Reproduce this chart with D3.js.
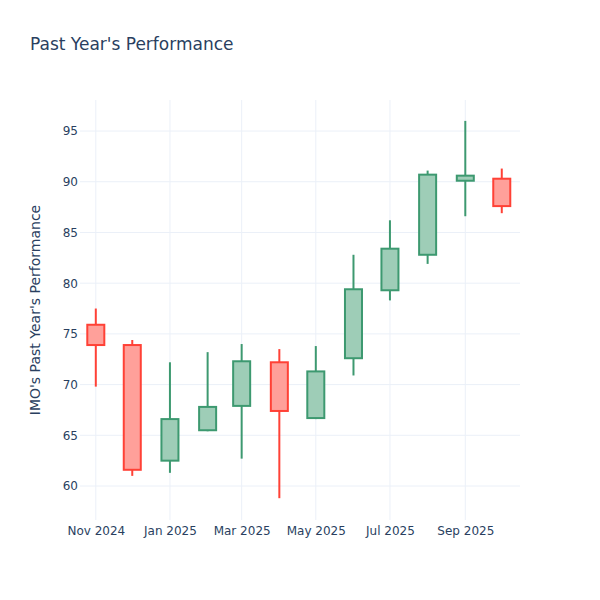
<!DOCTYPE html>
<html>
<head>
<meta charset="utf-8">
<script src="https://cdn.jsdelivr.net/npm/d3@7"></script>
<style>
    body { margin: 0; background: #fff; }
    text { font-family: "DejaVu Sans", verdana, arial, sans-serif; }
</style>
</head>
<body>
<div id="chart"></div>
<script>
// monthly candles
const dates = ["2024-11-01", "2024-12-01", "2025-01-01", "2025-02-01", "2025-03-01", "2025-04-01",
    "2025-05-01", "2025-06-01", "2025-07-01", "2025-08-01", "2025-09-01", "2025-10-01"];
const opens = [75.9, 73.9, 62.5, 65.5, 67.9, 72.2, 66.7, 72.6, 79.3, 82.8, 90.1, 90.3];
const highs = [77.5, 74.4, 72.2, 73.2, 74.0, 73.5, 73.8, 82.8, 86.2, 91.1, 96.0, 91.3];
const lows = [69.8, 61.0, 61.3, 65.4, 62.7, 58.8, 66.6, 70.9, 78.3, 81.9, 86.6, 86.9];
const closes = [73.9, 61.6, 66.6, 67.8, 72.3, 67.4, 71.3, 79.4, 83.4, 90.7, 90.6, 87.6];
const yTicks = [60, 65, 70, 75, 80, 85, 90, 95];
const xTicks = ["2024-11-01", "2025-01-01", "2025-03-01", "2025-05-01", "2025-07-01", "2025-09-01"];

const width = 600,
    height = 600,
    margin = { top: 100, right: 80, bottom: 80, left: 80 },
    incColor = "#3D9970",
    decColor = "#FF4136",
    textColor = "#2a3f5f",
    gridColor = "#EBF0F8";

const parse = d3.utcParse("%Y-%m-%d");
const day = 24 * 3600 * 1000;

const candles = dates.map((d, i) => ({
    date: parse(d),
    open: opens[i],
    high: highs[i],
    low: lows[i],
    close: closes[i]
}));

const x = d3.scaleUtc()
    .domain([new Date(+parse(dates[0]) - 13 * day), new Date(+parse(dates[dates.length - 1]) + 15 * day)])
    .range([margin.left, width - margin.right]);

const y = d3.scaleLinear()
    .domain([56.65, 98.06])
    .range([height - margin.bottom, margin.top]);

const svg = d3.select("#chart").append("svg")
    .attr("width", width)
    .attr("height", height);

// grid
svg.append("g")
    .selectAll("line")
    .data(yTicks)
    .enter()
    .append("line")
    .attr("x1", margin.left)
    .attr("x2", width - margin.right)
    .attr("y1", d => y(d))
    .attr("y2", d => y(d))
    .attr("stroke", gridColor)
    .attr("stroke-width", 1);

svg.append("g")
    .selectAll("line")
    .data(xTicks.map(parse))
    .enter()
    .append("line")
    .attr("x1", d => x(d))
    .attr("x2", d => x(d))
    .attr("y1", margin.top)
    .attr("y2", height - margin.bottom)
    .attr("stroke", gridColor)
    .attr("stroke-width", 1);

// axes
const yAxis = svg.append("g")
    .attr("transform", `translate(${margin.left},0)`)
    .call(d3.axisLeft(y).tickValues(yTicks).tickSize(0).tickPadding(2));
yAxis.select(".domain").remove();
yAxis.selectAll("text")
    .attr("fill", textColor)
    .style("font-size", "12px");

const xAxis = svg.append("g")
    .attr("transform", `translate(0,${height - margin.bottom})`)
    .call(d3.axisBottom(x).tickValues(xTicks.map(parse)).tickSize(0).tickPadding(6)
        .tickFormat(d3.utcFormat("%b %Y")));
xAxis.select(".domain").remove();
xAxis.selectAll("text")
    .attr("fill", textColor)
    .style("font-size", "12px");

// candles
const halfBox = 7 * day;
const node = svg.append("g")
    .selectAll("g")
    .data(candles)
    .enter()
    .append("g")
    .attr("class", "candle");

node.append("line")
    .attr("x1", d => x(d.date))
    .attr("x2", d => x(d.date))
    .attr("y1", d => y(d.high))
    .attr("y2", d => y(d.low))
    .attr("stroke", d => d.close >= d.open ? incColor : decColor)
    .attr("stroke-width", 2);

node.append("rect")
    .attr("x", d => x(new Date(+d.date - halfBox)))
    .attr("width", d => x(new Date(+d.date + halfBox)) - x(new Date(+d.date - halfBox)))
    .attr("y", d => y(Math.max(d.open, d.close)))
    .attr("height", d => Math.max(1, Math.abs(y(d.open) - y(d.close))))
    .attr("fill", d => d.close >= d.open ? "#9ECDB7" : "#FFA09A")
    .attr("stroke", d => d.close >= d.open ? incColor : decColor)
    .attr("stroke-width", 2);

// titles
svg.append("text")
    .attr("x", 30)
    .attr("y", 50)
    .attr("fill", textColor)
    .style("font-size", "17px")
    .text("Past Year's Performance");

svg.append("text")
    .attr("transform", `translate(40,${(margin.top + height - margin.bottom) / 2}) rotate(-90)`)
    .attr("text-anchor", "middle")
    .attr("fill", textColor)
    .style("font-size", "14px")
    .text("IMO's Past Year's Performance");
</script>
</body>
</html>
